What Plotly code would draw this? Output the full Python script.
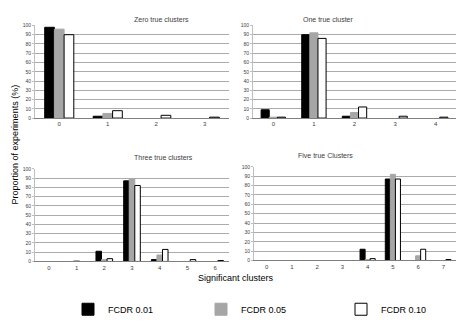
import plotly.graph_objects as go

# ---- data ----
panel_titles = ["Zero true clusters", "One true cluster", "Three true clusters", "Five true Clusters"]
cats_zero = [0, 1, 2, 3]
zero_001 = [98, 2, 0, 0]
zero_005 = [96, 5, 0, 0]
zero_010 = [90, 8, 3, 1]

cats_one = [0, 1, 2, 3, 4]
one_001 = [9, 90, 2, 0, 0]
one_005 = [1, 92, 6, 0, 0]
one_010 = [1, 86, 12, 2, 1]

cats_three = [0, 1, 2, 3, 4, 5, 6]
three_001 = [0, 0, 11, 87, 2, 0, 0]
three_005 = [0, 1, 2, 89, 7, 0, 0]
three_010 = [0, 0, 3, 82, 13, 2, 1]

cats_five = [0, 1, 2, 3, 4, 5, 6, 7]
five_001 = [0, 0, 0, 0, 12, 87, 0, 0]
five_005 = [0, 0, 0, 0, 1, 92, 5, 0]
five_010 = [0, 0, 0, 0, 2, 87, 12, 1]

series_names = ["FCDR 0.01", "FCDR 0.05", "FCDR 0.10"]
y_ticks = [0, 10, 20, 30, 40, 50, 60, 70, 80, 90, 100]

fills = ["#000000", "#a6a6a6", "#ffffff"]
edges = ["#000000", "#a6a6a6", "#000000"]
W, H = 457, 324

panels = [
    (cats_zero, [zero_001, zero_005, zero_010], (35, 229, 23, 118)),
    (cats_one, [one_001, one_005, one_010], (253, 456, 23, 118)),
    (cats_three, [three_001, three_005, three_010], (35, 229, 170, 265)),
    (cats_five, [five_001, five_005, five_010], (254, 456, 168, 264)),
]
legend_names = ["legend", "legend2", "legend3"]
legend_x = [68, 201, 341]

fig = go.Figure()
annotations = []
for i, (cats, sers, (x0, x1, yt, yb)) in enumerate(panels):
    k = "" if i == 0 else str(i + 1)
    for j, vals in enumerate(sers):
        fig.add_trace(go.Bar(
            x=cats, y=vals, name=series_names[j],
            marker=dict(color=fills[j],
                        line=dict(color=edges[j], width=[1 if v > 0 else 0 for v in vals])),
            xaxis="x" + k, yaxis="y" + k,
            showlegend=(i == 0), legendgroup=series_names[j], legend=legend_names[j],
        ))
    fig.layout["xaxis" + k] = dict(
        domain=[x0 / W, x1 / W], anchor="y" + k, range=[-0.5, len(cats) - 0.5],
        tickvals=cats, ticktext=[str(c) for c in cats], showgrid=False,
        showline=True, linecolor="#7f7f7f", linewidth=1, ticks="",
        tickfont=dict(size=6, color="#404040", family="Liberation Sans"), zeroline=False,
    )
    fig.layout["yaxis" + k] = dict(
        domain=[1 - yb / H, 1 - yt / H], anchor="x" + k, range=[0, 100],
        tickvals=y_ticks, showgrid=True, gridcolor="#ababab", gridwidth=1,
        showline=True, linecolor="#bfbfbf", ticks="outside", ticklen=2, tickcolor="#bfbfbf",
        tickfont=dict(size=5, color="#404040", family="Liberation Sans"), zeroline=False,
    )
    annotations.append(dict(
        text=panel_titles[i], x=(x0 + x1) / 2 / W, y=1 - (yt - 12) / H,
        xref="paper", yref="paper", showarrow=False,
        font=dict(size=7, color="#404040", family="Liberation Sans"),
    ))

annotations.append(dict(
    text="Proportion of experiments (%)", x=8 / W, y=1 - 145 / H, xref="paper", yref="paper",
    showarrow=False, textangle=-90, font=dict(size=9, color="#000000", family="Liberation Sans"),
))
annotations.append(dict(
    text="Significant clusters", x=236 / W, y=1 - 289 / H, xref="paper", yref="paper",
    showarrow=False, font=dict(size=9, color="#000000", family="Liberation Sans"),
))

layout_extra = {}
for j, ln in enumerate(legend_names):
    layout_extra[ln] = dict(
        x=legend_x[j] / W, y=1 - 314 / H, xanchor="left", yanchor="middle",
        orientation="h", itemwidth=30,
        font=dict(size=9, color="#000000", family="Liberation Sans"),
        bgcolor="rgba(0,0,0,0)",
    )

fig.update_layout(
    width=W, height=H, margin=dict(l=0, r=0, t=0, b=0),
    paper_bgcolor="white", plot_bgcolor="white",
    barmode="group", bargap=0.4, bargroupgap=0.0,
    annotations=annotations, **layout_extra,
)

fig.write_html("out.html")
